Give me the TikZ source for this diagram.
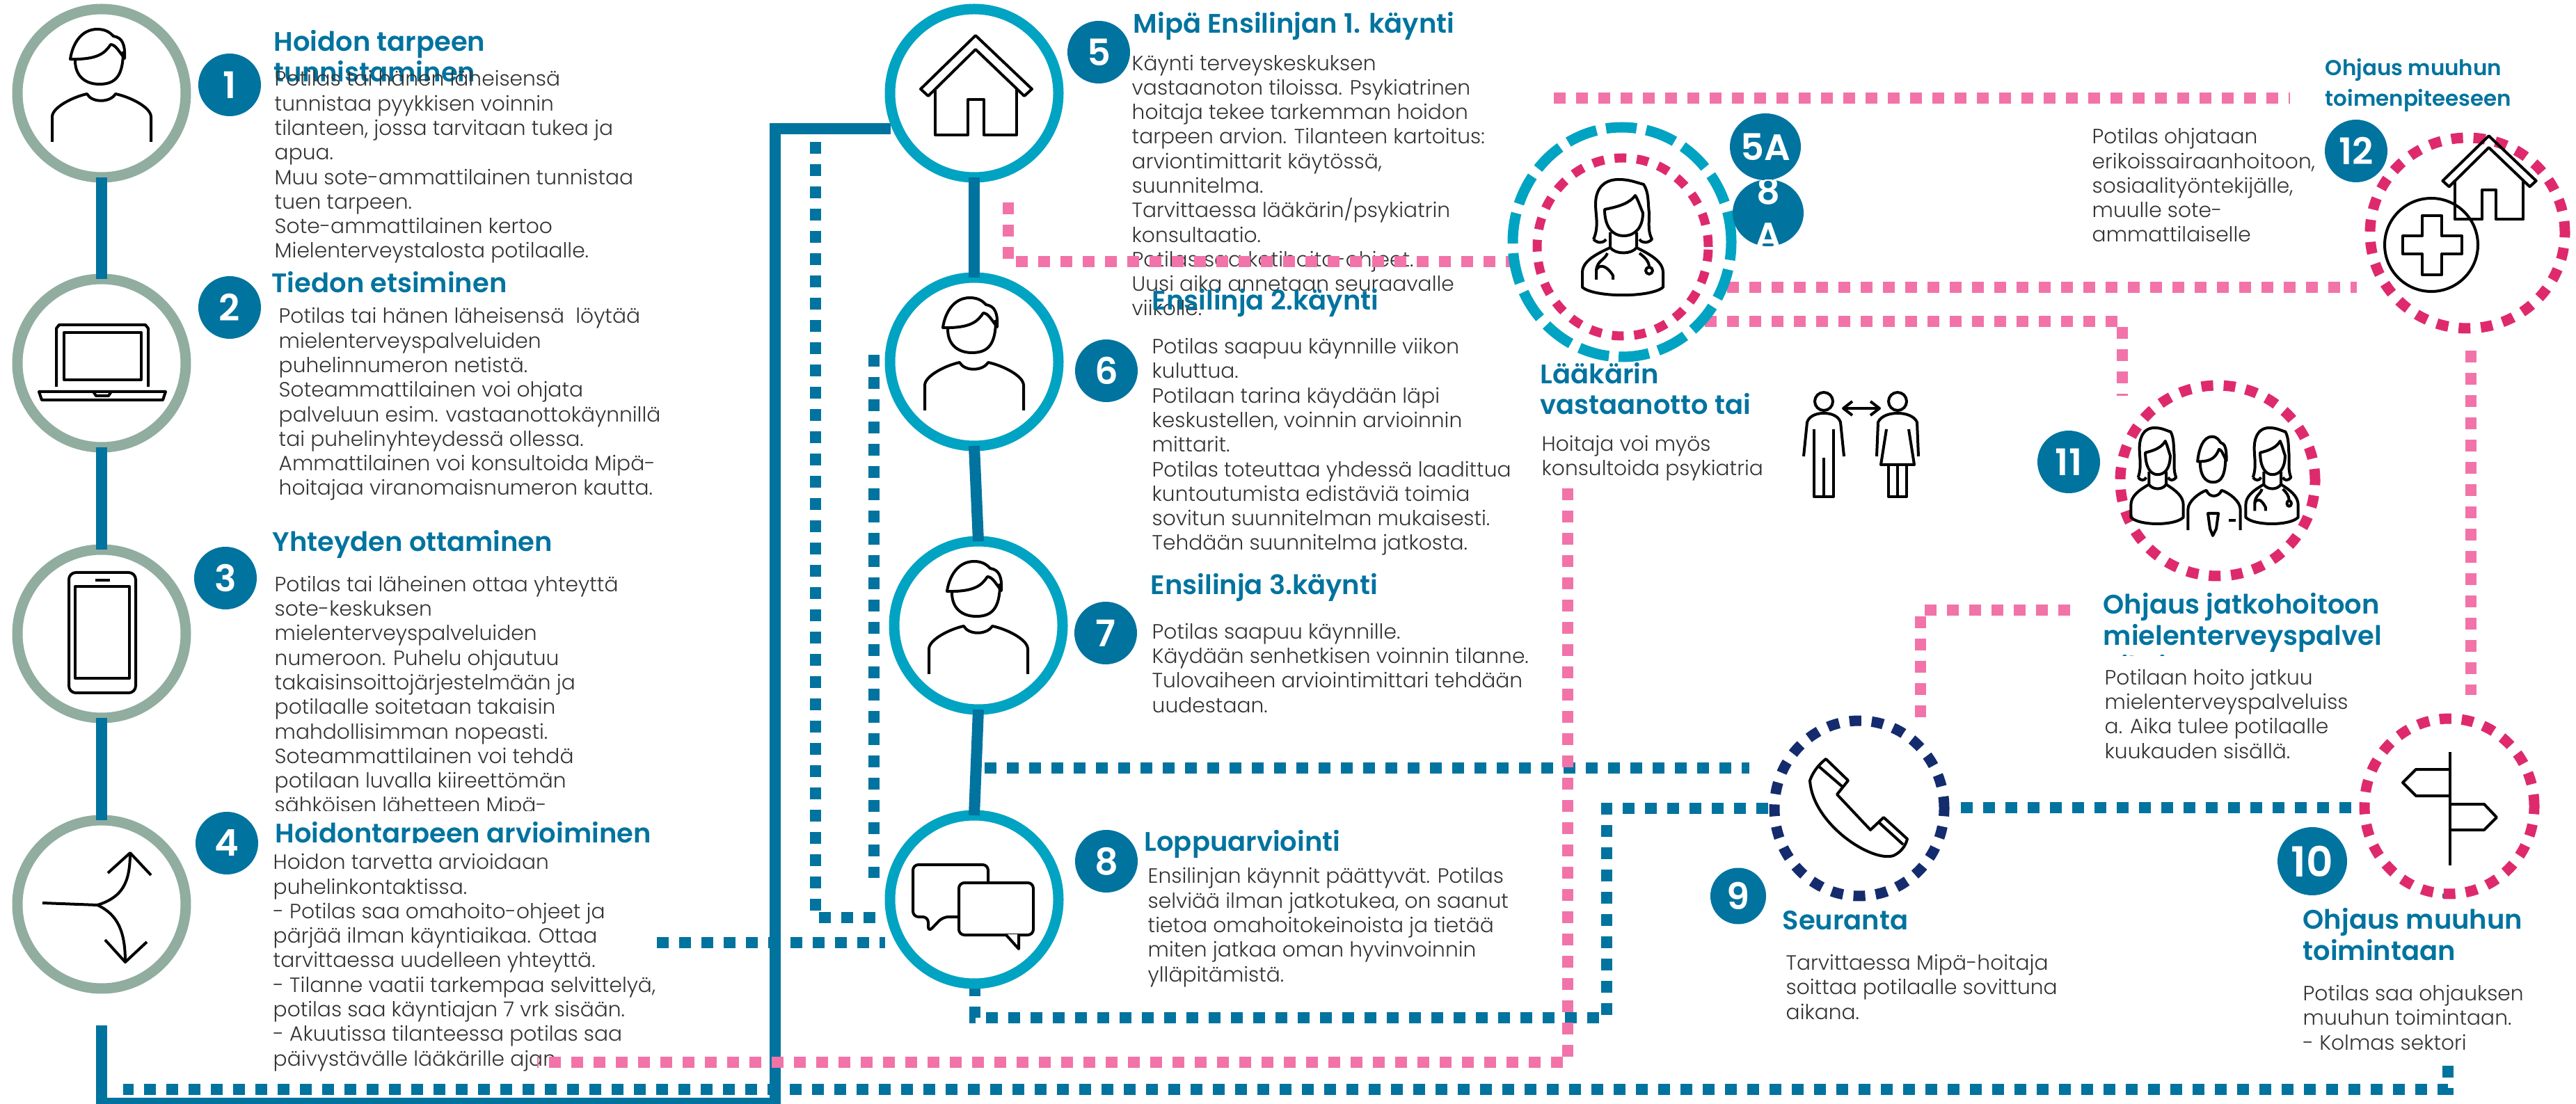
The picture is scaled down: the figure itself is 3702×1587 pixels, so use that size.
\documentclass[tikz,border=0pt]{standalone}
\usepackage{fontspec}
\setmainfont{Poppins}[UprightFont=* Light,BoldFont=* SemiBold]
\usetikzlibrary{shapes.geometric}
\definecolor{mipablue}{HTML}{00739F}
\definecolor{ringgreen}{HTML}{90ADA0}
\definecolor{ringcyan}{HTML}{00A3C2}
\definecolor{ringnavy}{HTML}{142C6E}
\definecolor{ringred}{HTML}{DE2A6D}
\definecolor{linkpink}{HTML}{F273A8}
\definecolor{bodygray}{HTML}{333333}
\pgfdeclarelayer{background}
\pgfsetlayers{background,main}
\tikzset{
  iconline/.style={draw=black, line width=0.4mm, line join=round},
  pics/manicon/.style={code={
    \draw[iconline] (-45,-49) .. controls (-42,-70) and (-30,-92) .. (-6,-92) .. controls (8,-92) and (14,-85) .. (17,-82) .. controls (30,-80) and (34,-70) .. (33,-50) .. controls (25,-60) and (20,-70) .. (13,-70) .. controls (5,-58) and (-5,-48) .. (-45,-49) -- cycle;
    \draw[iconline] (-38,-47) .. controls (-38,-25) and (-24,-13) .. (-3,-13) .. controls (20,-13) and (31,-25) .. (31,-60);
    \draw[iconline] (-71,70) -- (-71,34) .. controls (-71,20) and (-40,5) .. (-21,1) .. controls (-14,14) and (12,14) .. (20,1) .. controls (40,5) and (71,20) .. (71,34) -- (71,70);
  }},
  pics/womanicon/.style={code={
    \draw[iconline] (-42,-8) .. controls (-32,-30) and (-42,-50) .. (-38,-69) .. controls (-34,-88) and (-20,-94) .. (-6,-94) .. controls (10,-94) and (18,-90) .. (30,-87) .. controls (38,-75) and (36,-60) .. (38,-46) .. controls (38,-30) and (36,-20) .. (42,-8) .. controls (36,-2) and (28,-2) .. (24,-8);
    \draw[iconline] (-42,-8) .. controls (-36,-2) and (-28,-2) .. (-24,-8);
    \draw[iconline] (-26,-51) .. controls (-26,-25) and (-14,-13) .. (1,-13) .. controls (18,-13) and (29,-25) .. (29,-46) .. controls (25,-55) and (22,-65) .. (18,-71) .. controls (10,-60) and (-5,-55) .. (-26,-51) -- cycle;
    \draw[iconline] (-18,-18) -- (-18,4) .. controls (-10,14) and (12,14) .. (20,4) -- (20,-18);
    \draw[iconline] (-18,4) .. controls (-40,14) and (-58,24) .. (-58,40) -- (-58,61) .. controls (-40,76) and (40,76) .. (58,61) -- (58,40) .. controls (58,24) and (40,14) .. (20,4);
  }},
  pics/stethicon/.style={code={
    \draw[iconline] (-22,12) .. controls (-26,22) and (-36,22) .. (-38,36) -- (-38,50);
    \draw[iconline] (-38,36) .. controls (-34,28) and (-24,28) .. (-14,44) -- (-14,50);
    \draw[iconline] (24,12) .. controls (32,18) and (38,24) .. (38,32);
    \draw[iconline] (38,37) circle (5);
  }},
  pics/houseicon/.style={code={
    \draw[iconline] (-77,-6) -- (2,-83) -- (83,-6) -- (72,4) -- (2,-63) -- (-66,4) -- cycle;
    \draw[iconline] (-56,-6) -- (-56,60) -- (-9,60) -- (-9,9) -- (14,9) -- (14,60) -- (61,60) -- (61,-6);
  }},
}
\begin{document}
\begin{tikzpicture}[x=0.1mm, y=-0.1mm]
  \tikzstyle{stepring} = [draw, fill=white, circle, line width=1.5mm, minimum size=24.2mm, inner sep=0pt, outer sep=0pt]
  \tikzstyle{dashring} = [draw, fill=white, ellipse, line width=1.5mm, inner sep=0pt, outer sep=0pt, dash pattern=on 1.7mm off 1.5mm]
  \tikzstyle{badge} = [draw=none, fill=mipablue, ellipse, text=white, inner sep=0pt, outer sep=0pt, minimum width=9mm, minimum height=9mm, font=\fontsize{15}{18}\selectfont\bfseries]
  \tikzstyle{headtext} = [anchor=base west, inner sep=0pt, align=left, text=mipablue, font=\fontsize{10.95}{12.8}\selectfont\bfseries]
  \tikzstyle{bodytext} = [anchor=base west, inner sep=0pt, align=left, text=bodygray, font=\fontsize{8.45}{10.04}\selectfont]
  \tikzstyle{solidlink} = [draw=mipablue, line width=1.6mm]
  \tikzstyle{dotblue} = [draw=mipablue, line width=1.6mm, dash pattern=on 1.7mm off 1.5mm]
  \tikzstyle{dotpink} = [draw=linkpink, line width=1.6mm, dash pattern=on 1.7mm off 1.5mm]
  \clip (0,0) rectangle (3702,1587);

  % rings of the steps
  \node [stepring, draw=ringgreen] (c1) at (146,134) {};
  \node [stepring, draw=ringgreen] (c2) at (146,522) {};
  \node [stepring, draw=ringgreen] (c3) at (146,911) {};
  \node [stepring, draw=ringgreen] (c4) at (146,1300) {};
  \node [stepring, draw=ringcyan] (c5) at (1400,134) {};
  \node [stepring, draw=ringcyan] (c6) at (1400,520) {};
  \node [stepring, draw=ringcyan] (c7) at (1406,899) {};
  \node [stepring, draw=ringcyan] (c8) at (1400,1293) {};
  \node [dashring, draw=ringcyan, dash pattern=on 4.4mm off 1.4mm, minimum width=31.4mm, minimum height=33mm] (docouter) at (2331,348) {};
  \node [dashring, draw=ringred, line width=1.3mm, minimum width=24.6mm, minimum height=25.6mm] (docinner) at (2332,355) {};
  \node [dashring, draw=ringnavy, minimum width=24.4mm, minimum height=25.2mm] (c9) at (2672,1162) {};
  \node [dashring, draw=ringred, minimum width=24.4mm, minimum height=25.2mm] (c10) at (3520,1159) {};
  \node [dashring, draw=ringred, minimum width=28mm, minimum height=27.4mm] (c11) at (3187,691) {};
  \node [dashring, draw=ringred, minimum width=28mm, minimum height=27.4mm] (c12) at (3546,335) {};

  % links that run along the rings
  \draw [solidlink] (c1.south) -- (c2.north);
  \draw [solidlink] (c2.south) -- (c3.north);
  \draw [solidlink] (c3.south) -- (c4.north);
  \draw [solidlink] (c5.south) -- (c6.north);
  \draw [solidlink] (c6.south) -- (c7.north);
  \draw [solidlink] (c7.south) -- (c8.north);

  % icons
  \pic at (c1) {manicon};
  \pic at (c6) {manicon};
  \pic at (c7) {manicon};
  \pic at (c5) {houseicon};
  \draw [iconline] (81,556) -- (81,472) -- (85,467) -- (209,467) -- (213,472) -- (213,556);
  \draw [iconline] (92,478) rectangle (203,546);
  \draw [iconline] (56,563) -- (238,563) -- (234,575) -- (60,575) -- cycle;
  \draw [iconline] (134,563) -- (138,569) -- (156,569) -- (160,563);
  \draw [iconline, rounded corners=1mm] (99,823) rectangle (195,996);
  \draw [iconline] (108,843) rectangle (186,975);
  \draw [iconline] (137,834) -- (158,834);
  \draw [iconline] (61,1298) -- (140,1301) .. controls (175,1290) and (187,1270) .. (187,1226);
  \draw [iconline] (140,1301) .. controls (170,1315) and (180,1340) .. (180,1383);
  \draw [iconline] (155,1255) -- (187,1226) -- (217,1258);
  \draw [iconline] (151,1351) -- (180,1383) -- (211,1354);
  \draw [iconline, rounded corners=0.8mm] (1420,1269) -- (1420,1243) -- (1312,1243) -- (1312,1318) -- (1334,1318) -- (1334,1340) -- (1355,1318) -- (1378,1318);
  \draw [iconline, rounded corners=0.8mm, fill=white] (1378,1269) rectangle (1485,1344);
  \draw [iconline, fill=white] (1445,1343) -- (1464,1364) -- (1464,1343);
  \pic at (2332,352) {womanicon};
  \pic at (2332,352) {stethicon};
  \pic [xscale=0.65, yscale=0.83] at (3100,693) {womanicon};
  \pic [xscale=0.65, yscale=0.83] at (3265,693) {womanicon};
  \pic [xscale=0.65, yscale=0.83] at (3265,693) {stethicon};
  \pic [xscale=0.53, yscale=0.83] at (3182,704) {manicon};
  \draw [iconline] (3173,738) -- (3188,738) -- (3185,760) -- (3180,770) -- (3176,760) -- cycle;
  \draw [iconline] (3203,748) -- (3213,748);
  \pic [scale=0.84] at (3575,265) {houseicon};
  \draw [iconline] (3494,352) circle (67);
  \draw [iconline] (3481,310) -- (3509,310) -- (3509,339) -- (3538,339) -- (3538,365) -- (3509,365) -- (3509,395) -- (3481,395) -- (3481,365) -- (3453,365) -- (3453,339) -- (3481,339) -- cycle;
  \draw [iconline] (2601,1122) .. controls (2606,1108) and (2615,1098) .. (2624,1091) -- (2656,1122) -- (2640,1142) -- (2688,1193) -- (2707,1175) -- (2741,1206) .. controls (2738,1218) and (2730,1226) .. (2721,1230) .. controls (2690,1240) and (2605,1185) .. (2601,1122) -- cycle;
  \draw [iconline] (2613,1101) -- (2649,1132) (2701,1183) -- (2735,1214);
  \draw [iconline] (3521,1081) -- (3521,1244);
  \draw [iconline] (3521,1106) -- (3472,1106) -- (3453,1125) -- (3472,1144) -- (3521,1144);
  \draw [iconline] (3521,1156) -- (3570,1156) -- (3588,1175) -- (3570,1193) -- (3521,1193);
  \draw [iconline] (2621,577) circle (13);
  \draw [iconline] (2592,656) -- (2597,607) .. controls (2600,598) and (2610,594) .. (2621,594) .. controls (2632,594) and (2642,598) .. (2645,607) -- (2650,656);
  \draw [iconline] (2607,617) -- (2607,714) -- (2635,714) -- (2635,617) (2621,658) -- (2621,714);
  \draw [iconline] (2727,577) circle (13);
  \draw [iconline] (2697,656) -- (2699,607) .. controls (2703,598) and (2715,594) .. (2727,594) .. controls (2739,594) and (2751,598) .. (2755,607) -- (2757,656);
  \draw [iconline] (2711,617) -- (2703,668) -- (2751,668) -- (2743,617);
  \draw [iconline] (2714,668) -- (2714,714) -- (2740,714) -- (2740,668) (2727,668) -- (2727,714);
  \draw [iconline] (2649,587) -- (2701,587);
  \draw [iconline] (2662,577) -- (2649,587) -- (2662,597);
  \draw [iconline] (2688,577) -- (2701,587) -- (2688,597);

  % numbers
  \node [badge] (b1) at (330,122) {1};
  \node [badge] (b2) at (330,442) {2};
  \node [badge] (b3) at (324,831) {3};
  \node [badge] (b4) at (326,1212) {4};
  \node [badge] (b5) at (1579,75) {5};
  \node [badge] (b6) at (1590,533) {6};
  \node [badge] (b7) at (1589,910) {7};
  \node [badge] (b8) at (1590,1238) {8};
  \node [badge, minimum width=10.2mm, minimum height=9.6mm] (b5a) at (2537,211) {5A};
  \node [badge, minimum width=10.2mm, minimum height=9.6mm] (b8a) at (2541,306) {};
  \begin{scope}
    \clip (2541,306) ellipse (51 and 48);
    \node [anchor=center, text=white, align=center, inner sep=0pt, font=\fontsize{15}{18}\selectfont\bfseries] (b8atext) at (2541,306) {8\\A};
  \end{scope}
  \node [badge] (b12) at (3386,217) {12};
  \node [badge] (b11) at (2973,664) {11};
  \node [badge, minimum width=8mm, minimum height=8.1mm] (b9) at (2498,1288) {9};
  \node [badge, minimum width=10mm, minimum height=9.8mm, font=\fontsize{17}{18}\selectfont\bfseries] (b10) at (3323,1238) {10};

  \begin{pgfonlayer}{background}
    % texts, at the base line of their last row
    \node [headtext] (h1) at (393,118) {Hoidon tarpeen\\tunnistaminen};
    \node [bodytext] (t1) at (394,371) {Potilas tai hänen läheisensä\\tunnistaa pyykkisen voinnin\\tilanteen, jossa tarvitaan tukea ja\\apua.\\Muu sote-ammattilainen tunnistaa\\tuen tarpeen.\\Sote-ammattilainen kertoo\\Mielenterveystalosta potilaalle.};
    \node [headtext] (h2) at (390,421) {Tiedon etsiminen};
    \node [bodytext] (t2) at (400,712) {Potilas tai hänen läheisensä~ löytää\\mielenterveyspalveluiden\\puhelinnumeron netistä.\\Soteammattilainen voi ohjata\\palveluun esim. vastaanottokäynnillä\\tai puhelinyhteydessä ollessa.\\Ammattilainen voi konsultoida Mipä-\\hoitajaa viranomaisnumeron kautta.};
    \node [headtext] (h3) at (391,793) {Yhteyden ottaminen};
    \begin{scope}
      \clip (300,800) rectangle (1100,1165);
      \node [bodytext] (t3) at (394,1168) {Potilas tai läheinen ottaa yhteyttä\\sote-keskuksen\\mielenterveyspalveluiden\\numeroon. Puhelu ohjautuu\\takaisinsoittojärjestelmään ja\\potilaalle soitetaan takaisin\\mahdollisimman nopeasti.\\Soteammattilainen voi tehdä\\potilaan luvalla kiireettömän\\sähköisen lähetteen Mipä-};
    \end{scope}
    \begin{scope}
      \clip (300,1160) rectangle (1100,1211);
      \node [headtext] (h4) at (395,1211) {Hoidontarpeen arvioiminen};
    \end{scope}
    \node [bodytext] (t4) at (392,1532) {Hoidon tarvetta arvioidaan\\puhelinkontaktissa.\\- Potilas saa omahoito-ohjeet ja\\pärjää ilman käyntiaikaa. Ottaa\\tarvittaessa uudelleen yhteyttä.\\- Tilanne vaatii tarkempaa selvittelyä,\\potilas saa käyntiajan 7 vrk sisään.\\- Akuutissa tilanteessa potilas saa\\päivystävälle lääkärille ajan.};
    \node [headtext] (h5) at (1628,48) {Mipä Ensilinjan 1. käynti};
    \node [bodytext] (t5) at (1626,454) {Käynti terveyskeskuksen\\vastaanoton tiloissa. Psykiatrinen\\hoitaja tekee tarkemman hoidon\\tarpeen arvion. Tilanteen kartoitus:\\arviontimittarit käytössä,\\suunnitelma.\\Tarvittaessa lääkärin/psykiatrin\\konsultaatio.\\Potilas saa kotihoito-ohjeet.\\Uusi aika annetaan seuraavalle\\viikolle.};
    \node [headtext] (h6) at (1655,446) {Ensilinja 2.käynti};
    \node [bodytext] (t6) at (1655,791) {Potilas saapuu käynnille viikon\\kuluttua.\\Potilaan tarina käydään läpi\\keskustellen, voinnin arvioinnin\\mittarit.\\Potilas toteuttaa yhdessä laadittua\\kuntoutumista edistäviä toimia\\sovitun suunnitelman mukaisesti.\\Tehdään suunnitelma jatkosta.};
    \node [headtext] (h7) at (1653,855) {Ensilinja 3.käynti};
    \node [bodytext] (t7) at (1655,1024) {Potilas saapuu käynnille.\\Käydään senhetkisen voinnin tilanne.\\Tulovaiheen arviointimittari tehdään\\uudestaan.};
    \node [headtext] (h8) at (1644,1223) {Loppuarviointi};
    \node [bodytext] (t8) at (1649,1411) {Ensilinjan käynnit päättyvät. Potilas\\selviää ilman jatkotukea, on saanut\\tietoa omahoitokeinoista ja tietää\\miten jatkaa oman hyvinvoinnin\\ylläpitämistä.};
    \node [headtext] (hdoc) at (2213,596) {Lääkärin\\vastaanotto tai};
    \node [bodytext] (tdoc) at (2215,684) {Hoitaja voi myös\\konsultoida psykiatria};
    \node [headtext, font=\fontsize{8.8}{12.8}\selectfont\bfseries] (h12) at (3341,153) {Ohjaus muuhun\\toimenpiteeseen};
    \node [bodytext] (t12) at (3006,348) {Potilas ohjataan\\erikoissairaanhoitoon,\\sosiaalityöntekijälle,\\muulle sote-\\ammattilaiselle};
    \begin{scope}
      \clip (3000,840) rectangle (3500,943);
      \node [headtext] (h11) at (3022,972) {Ohjaus jatkohoitoon\\mielenterveyspalvel\\uiksi};
    \end{scope}
    \node [bodytext] (t11) at (3024,1090) {Potilaan hoito jatkuu\\mielenterveyspalveluiss\\a. Aika tulee potilaalle\\kuukauden sisällä.};
    \node [headtext] (h9) at (2561,1336) {Seuranta};
    \node [bodytext] (t9) at (2566,1465) {Tarvittaessa Mipä-hoitaja\\soittaa potilaalle sovittuna\\aikana.};
    \node [headtext] (h10) at (3309,1380) {Ohjaus muuhun\\toimintaan};
    \node [bodytext] (t10) at (3309,1509) {Potilas saa ohjauksen\\muuhun toimintaan.\\- Kolmas sektori};

    % main line under the columns
    \coordinate (trunk) at (146,1474);
    \coordinate (trunkend) at (1114,1586);
    \coordinate (c5in) at (1280,185);
    \draw [solidlink] (trunk) |- (trunkend) |- (c5in);

    % blue dotted links
    \coordinate (backa) at (177,1566);
    \coordinate (backb) at (3518,1532);
    \coordinate (c10stub) at (3518,1256);
    \coordinate (c10foot) at (3518,1292);
    \draw [dotblue] (backb) |- (backa);
    \draw [dotblue, dash phase=1.4mm] (c10stub) -- (c10foot);
    \coordinate (d2a) at (1172,204);
    \coordinate (d2b) at (1258,1319);
    \draw [dotblue] (d2a) |- (d2b);
    \coordinate (d3a) at (944,1355);
    \coordinate (d3b) at (1272,1355);
    \draw [dotblue] (d3a) -- (d3b);
    \coordinate (d4a) at (1256,510);
    \coordinate (d4b) at (1256,1262);
    \draw [dotblue] (d4a) -- (d4b);
    \coordinate (d5a) at (1415,1104);
    \coordinate (d5b) at (2514,1104);
    \draw [dotblue] (d5a) -- (d5b);
    \coordinate (d6a) at (1401,1415);
    \coordinate (d6b) at (2309,1463);
    \coordinate (d6c) at (2542,1162);
    \draw [dotblue] (d6a) |- (d6b) |- (d6c);
    \coordinate (d7a) at (2818,1161);
    \coordinate (d7b) at (3379,1161);
    \draw [dotblue] (d7a) -- (d7b);

    % pink dotted links
    \coordinate (p1a) at (2233,141);
    \coordinate (p1b) at (3291,141);
    \draw [dotpink] (p1a) -- (p1b);
    \coordinate (p2a) at (1449,291);
    \coordinate (p2b) at (2195,376);
    \draw [dotpink] (p2a) |- (p2b);
    \coordinate (p3a) at (2482,413);
    \coordinate (p3b) at (3387,413);
    \draw [dotpink] (p3a) -- (p3b);
    \coordinate (p4a) at (2450,462);
    \coordinate (p4b) at (3050,569);
    \draw [dotpink] (p4a) -| (p4b);
    \coordinate (p5a) at (3551,504);
    \coordinate (p5b) at (3551,999);
    \draw [dotpink] (p5a) -- (p5b);
    \coordinate (p6a) at (2975,877);
    \coordinate (p6b) at (2760,1036);
    \draw [dotpink] (p6a) -| (p6b);
    \coordinate (p7a) at (2253,702);
    \coordinate (p7b) at (772,1527);
    \draw [dotpink] (p7a) |- (p7b);
  \end{pgfonlayer}
\end{tikzpicture}
\end{document}
